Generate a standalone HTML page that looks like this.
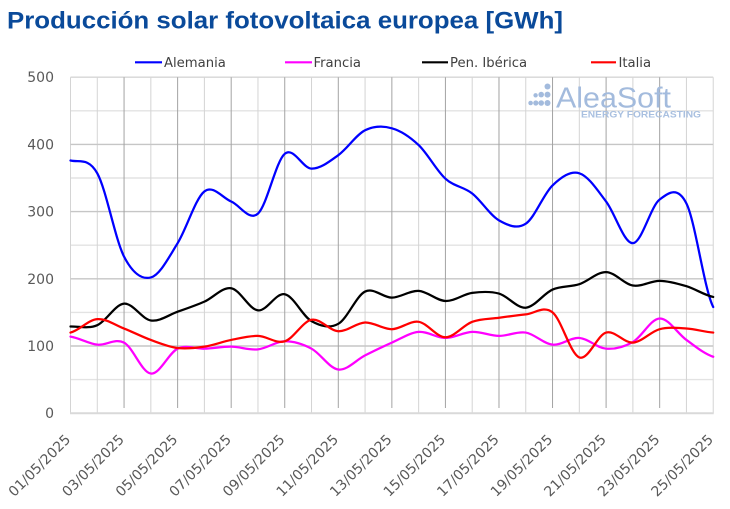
<!DOCTYPE html>
<html><head><meta charset="utf-8"><style>
html,body{margin:0;padding:0;background:#fff;}
body{width:730px;height:509px;overflow:hidden;}
svg{display:block;}
</style></head><body>
<svg width="730" height="509" viewBox="0 0 730 509" xmlns="http://www.w3.org/2000/svg">
<rect x="0" y="0" width="730" height="509" fill="#ffffff"/>
<text x="7" y="28.5" font-family="Liberation Sans, Arial, sans-serif" font-weight="bold" font-size="24" fill="#0a4a9a" textLength="556" lengthAdjust="spacingAndGlyphs">Producción solar fotovoltaica europea [GWh]</text>

<!-- minor horizontal grid -->
<g stroke="#e3e3e3" stroke-width="1.4" fill="none">
<line x1="70.5" y1="379.6" x2="713.2" y2="379.6"/>
<line x1="70.5" y1="312.4" x2="713.2" y2="312.4"/>
<line x1="70.5" y1="245.2" x2="713.2" y2="245.2"/>
<line x1="70.5" y1="178.0" x2="713.2" y2="178.0"/>
<line x1="70.5" y1="110.8" x2="713.2" y2="110.8"/>
</g>
<!-- light vertical grid -->
<g stroke="#d4d4d4" stroke-width="1" fill="none">
<line x1="70.5" y1="77.2" x2="70.5" y2="413.2"/>
<line x1="97.28" y1="77.2" x2="97.28" y2="413.2"/>
<line x1="150.84" y1="77.2" x2="150.84" y2="413.2"/>
<line x1="204.4" y1="77.2" x2="204.4" y2="413.2"/>
<line x1="257.96" y1="77.2" x2="257.96" y2="413.2"/>
<line x1="311.52" y1="77.2" x2="311.52" y2="413.2"/>
<line x1="365.08" y1="77.2" x2="365.08" y2="413.2"/>
<line x1="418.64" y1="77.2" x2="418.64" y2="413.2"/>
<line x1="472.2" y1="77.2" x2="472.2" y2="413.2"/>
<line x1="525.76" y1="77.2" x2="525.76" y2="413.2"/>
<line x1="579.32" y1="77.2" x2="579.32" y2="413.2"/>
<line x1="632.88" y1="77.2" x2="632.88" y2="413.2"/>
<line x1="686.44" y1="77.2" x2="686.44" y2="413.2"/>
<line x1="713.22" y1="77.2" x2="713.22" y2="413.2"/>
</g>
<!-- major horizontal grid -->
<g stroke="#c6c6c6" stroke-width="1.4" fill="none">
<line x1="70.5" y1="346.0" x2="713.2" y2="346.0"/>
<line x1="70.5" y1="278.8" x2="713.2" y2="278.8"/>
<line x1="70.5" y1="211.6" x2="713.2" y2="211.6"/>
<line x1="70.5" y1="144.4" x2="713.2" y2="144.4"/>
</g>
<line x1="70.5" y1="77.2" x2="713.2" y2="77.2" stroke="#d6d6d6" stroke-width="1.4"/>
<!-- dark vertical grid -->
<g stroke="#a3a3a3" stroke-width="1" fill="none">
<line x1="124.06" y1="77.2" x2="124.06" y2="408"/>
<line x1="177.62" y1="77.2" x2="177.62" y2="408"/>
<line x1="231.18" y1="77.2" x2="231.18" y2="408"/>
<line x1="284.74" y1="77.2" x2="284.74" y2="408"/>
<line x1="338.3" y1="77.2" x2="338.3" y2="408"/>
<line x1="391.86" y1="77.2" x2="391.86" y2="408"/>
<line x1="445.42" y1="77.2" x2="445.42" y2="408"/>
<line x1="498.98" y1="77.2" x2="498.98" y2="408"/>
<line x1="552.54" y1="77.2" x2="552.54" y2="408"/>
<line x1="606.1" y1="77.2" x2="606.1" y2="408"/>
<line x1="659.66" y1="77.2" x2="659.66" y2="408"/>
</g>
<line x1="70" y1="413.2" x2="713.7" y2="413.2" stroke="#d9d9d9" stroke-width="2"/>

<!-- watermark -->
<g fill="#a3bbdd">
<circle cx="547.5" cy="86.5" r="3"/>
<circle cx="535.6" cy="95.3" r="2.2"/>
<circle cx="541.2" cy="94.6" r="2.8"/>
<circle cx="547.5" cy="94.6" r="3"/>
<circle cx="530.6" cy="103" r="2.3"/>
<circle cx="535.8" cy="103" r="2.6"/>
<circle cx="541.2" cy="103" r="2.8"/>
<circle cx="547.5" cy="103" r="3"/>
<text x="556" y="107.3" font-family="Liberation Sans, Arial, sans-serif" font-size="29" textLength="115" lengthAdjust="spacingAndGlyphs">AleaSoft</text>
</g>
<text x="581" y="117.3" font-family="Liberation Sans, Arial, sans-serif" font-weight="bold" font-size="9.3" fill="#a9c0e0" textLength="120" lengthAdjust="spacingAndGlyphs">ENERGY FORECASTING</text>

<!-- series -->
<g transform="translate(70.5,413.2) scale(26.78,-0.672)" fill="none" stroke-width="2.25" stroke-linejoin="round" stroke-linecap="round">
<path vector-effect="non-scaling-stroke" stroke="#0000ff" d="M0,376 C0.333,372.83 0.667,380.83 1,357 S1.667,258.83 2,233 S2.667,198.67 3,202 S3.667,231.67 4,253 S4.667,319.67 5,330 S5.667,320.5 6,315 S6.667,285.17 7,297 S7.667,374.83 8,386 S8.667,364.33 9,364 S9.667,374.5 10,384 S10.667,414.33 11,421 S11.667,427.67 12,424 S12.667,411.5 13,399 S13.667,361 14,349 S14.667,337.33 15,327 S15.667,294.5 16,287 S16.667,273.33 17,282 S17.667,326.5 18,339 S18.667,361 19,357 S19.667,332.33 20,315 S20.667,252.5 21,253 S21.667,308.17 22,318 S22.667,338.67 23,312 S23.667,183.67 24,158"/>
<path vector-effect="non-scaling-stroke" stroke="#ff00ff" d="M0,114 C0.333,112 0.667,103.5 1,102 S1.667,112.17 2,105 S2.667,60.5 3,59 S3.667,89.83 4,96 S4.667,95.5 5,96 S5.667,99.17 6,99 S6.667,93.67 7,95 S7.667,106.83 8,107 S8.667,103 9,96 S9.667,66.67 10,65 S10.667,79.33 11,86 S11.667,99.17 12,105 S12.667,119.83 13,121 S13.667,112 14,112 S14.667,120.5 15,121 S15.667,115.17 16,115 S16.667,122.17 17,120 S17.667,103.33 18,102 S18.667,113 19,112 S19.667,97 20,96 S20.667,98.5 21,106 S21.667,140.5 22,141 S22.667,118.5 23,109 S23.667,88.17 24,84"/>
<path vector-effect="non-scaling-stroke" stroke="#000000" d="M0,129 C0.333,129.33 0.667,125.33 1,131 S1.667,161.83 2,163 S2.667,140 3,138 S3.667,146.33 4,151 S4.667,160.17 5,166 S5.667,188.17 6,186 S6.667,154.5 7,153 S7.667,179.67 8,177 S8.667,144.33 9,137 S9.667,125.67 10,133 S10.667,174.5 11,181 S11.667,171.83 12,172 S12.667,182.83 13,182 S13.667,167.5 14,167 S14.667,177.17 15,179 S15.667,181.67 16,178 S16.667,156 17,157 S17.667,178.17 18,184 S18.667,187.67 19,192 S19.667,210.33 20,210 S20.667,192.17 21,190 S21.667,197.17 22,197 S22.667,193 23,189 S23.667,175.67 24,173"/>
<path vector-effect="non-scaling-stroke" stroke="#ff0000" d="M0,120 C0.333,123.33 0.667,139 1,140 S1.667,131.17 2,126 S2.667,113.83 3,109 S3.667,98.67 4,97 S4.667,97 5,99 S5.667,106.33 6,109 S6.667,115.33 7,115 S7.667,103 8,107 S8.667,136.5 9,139 S9.667,122.67 10,122 S10.667,134.5 11,135 S11.667,124.83 12,125 S12.667,138 13,136 S13.667,113 14,113 S14.667,131.17 15,136 S15.667,140.17 16,142 S16.667,145.67 17,147 S17.667,160.67 18,150 S18.667,88 19,83 S19.667,116.33 20,120 S20.667,104.17 21,105 S21.667,121.5 22,125 S22.667,126.83 23,126 S23.667,121 24,120"/>
</g>

<!-- legend -->
<g stroke-width="2.2">
<line x1="135" y1="62.3" x2="162" y2="62.3" stroke="#0000ff"/>
<line x1="285" y1="62.3" x2="312" y2="62.3" stroke="#ff00ff"/>
<line x1="422" y1="62.3" x2="448" y2="62.3" stroke="#000000"/>
<line x1="591" y1="62.3" x2="616" y2="62.3" stroke="#ff0000"/>
</g>
<g font-family="DejaVu Sans, sans-serif" font-size="13.2" fill="#404040">
<text x="164" y="67">Alemania</text>
<text x="313.5" y="67">Francia</text>
<text x="450" y="67">Pen. Ibérica</text>
<text x="618.5" y="67">Italia</text>
</g>

<!-- y axis labels -->
<g font-family="DejaVu Sans, sans-serif" font-size="14" fill="#595959" text-anchor="end">
<text x="54" y="82.2">500</text>
<text x="54" y="149.4">400</text>
<text x="54" y="216.6">300</text>
<text x="54" y="283.8">200</text>
<text x="54" y="351">100</text>
<text x="54" y="418.2">0</text>
</g>

<!-- x axis labels -->
<g font-family="DejaVu Sans, sans-serif" font-size="14" fill="#595959" text-anchor="middle" dominant-baseline="central">
<text x="40" y="466" transform="rotate(-45 40 466)">01/05/2025</text>
<text x="93.56" y="466" transform="rotate(-45 93.56 466)">03/05/2025</text>
<text x="147.12" y="466" transform="rotate(-45 147.12 466)">05/05/2025</text>
<text x="200.68" y="466" transform="rotate(-45 200.68 466)">07/05/2025</text>
<text x="254.24" y="466" transform="rotate(-45 254.24 466)">09/05/2025</text>
<text x="307.8" y="466" transform="rotate(-45 307.8 466)">11/05/2025</text>
<text x="361.36" y="466" transform="rotate(-45 361.36 466)">13/05/2025</text>
<text x="414.92" y="466" transform="rotate(-45 414.92 466)">15/05/2025</text>
<text x="468.48" y="466" transform="rotate(-45 468.48 466)">17/05/2025</text>
<text x="522.04" y="466" transform="rotate(-45 522.04 466)">19/05/2025</text>
<text x="575.6" y="466" transform="rotate(-45 575.6 466)">21/05/2025</text>
<text x="629.16" y="466" transform="rotate(-45 629.16 466)">23/05/2025</text>
<text x="682.72" y="466" transform="rotate(-45 682.72 466)">25/05/2025</text>
</g>
</svg>
</body></html>
